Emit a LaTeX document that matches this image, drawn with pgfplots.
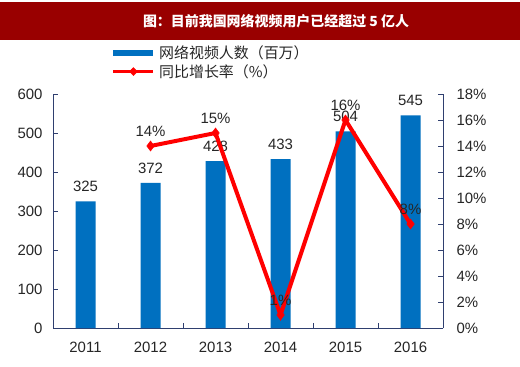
\documentclass[border=0pt]{standalone}
\usepackage{pgfplots}
\pgfplotsset{compat=1.18}
\usepackage{fontspec}
\setmainfont{Liberation Sans}
\newfontfamily\cjk{Noto Sans CJK SC}
\definecolor{barblue}{HTML}{0070C0}
\definecolor{linered}{HTML}{FF0000}
\definecolor{titlered}{HTML}{990000}
\definecolor{axcol}{HTML}{2F3F6F}
\definecolor{txt}{HTML}{262626}
\begin{document}
\begin{tikzpicture}[x=1bp,y=1bp]
\fill[white] (0,0) rectangle (520,366);
\fill[titlered] (0,326) rectangle (520,364);
\node[text=white,font=\cjk\bfseries\fontsize{14}{16}\selectfont] at (276,345) {图：目前我国网络视频用户已经超过 5 亿人};
\begin{axis}[
  at={(53bp,38bp)}, anchor=south west,
  scale only axis, width=390bp, height=234bp,
  xmin=-0.5, xmax=5.5, ymin=0, ymax=600,
  xtick={0,...,5}, xticklabels={2011,2012,2013,2014,2015,2016},
  minor xtick={0.5,1.5,2.5,3.5,4.5},
  ytick={0,100,...,600},
  axis x line*=bottom, axis y line*=left,
  axis line style={axcol, line width=0.8bp, -},
  tick align=inside,
  major tick length=5bp, minor tick length=5bp,
  every tick/.style={axcol, line width=0.8bp},
  every major x tick/.append style={draw=none},
  tick label style={font=\fontsize{15}{17}\selectfont, text=txt},
  /pgf/number format/assume math mode=true,
  xticklabel style={yshift=-11bp},
  yticklabel style={xshift=-7bp},
  legend style={at={(0.150,1.214)}, anchor=north west, draw=none, fill=none,
    inner sep=0pt, font=\cjk\fontsize{15}{17}\selectfont, text=txt, row sep=0bp,
    /tikz/every odd column/.append style={column sep=2bp}},
  legend cell align=left,
]
\addplot[ybar, bar width=20bp, fill=barblue, draw=none,
  nodes near coords,
  every node near coord/.append style={font=\fontsize{15}{17}\selectfont, text=txt, yshift=6bp},
  legend image code/.code={\fill[barblue] (0bp,-3bp) rectangle (40bp,3bp);}]
  coordinates {(0,325) (1,372) (2,428) (3,433) (4,504) (5,545)};
\addlegendentry{网络视频人数（百万）}
\addlegendimage{legend image code/.code={
  \draw[linered, line width=3.5bp] (0bp,0bp) -- (40bp,0bp);
  \fill[linered] (20bp,-4bp) -- (24bp,0bp) -- (20bp,4bp) -- (16bp,0bp) -- cycle;}}
\addlegendentry{同比增长率（\%）}
\end{axis}
\begin{axis}[
  at={(53bp,38bp)}, anchor=south west,
  scale only axis, width=390bp, height=234bp,
  xmin=-0.5, xmax=5.5, ymin=0, ymax=18,
  axis x line=none, axis y line*=right,
  axis line style={axcol, line width=0.8bp, -},
  ytick={0,2,...,18},
  yticklabel={\pgfmathprintnumber{\tick}\%},
  tick align=inside, major tick length=5bp,
  every tick/.style={axcol, line width=0.8bp},
  tick label style={font=\fontsize{15}{17}\selectfont, text=txt},
  /pgf/number format/assume math mode=true,
  yticklabel style={xshift=10bp},
]
\addplot[linered, line width=4bp, mark=diamond*, mark size=5bp,
  mark options={solid, line width=0.5bp, fill=linered},
  nodes near coords={\pgfmathprintnumber{\pgfplotspointmeta}\%},
  every node near coord/.append style={font=\fontsize{15}{17}\selectfont, text=txt, yshift=6bp}]
  coordinates {(1,14) (2,15) (3,1) (4,16) (5,8)};
\end{axis}
\end{tikzpicture}
\end{document}
